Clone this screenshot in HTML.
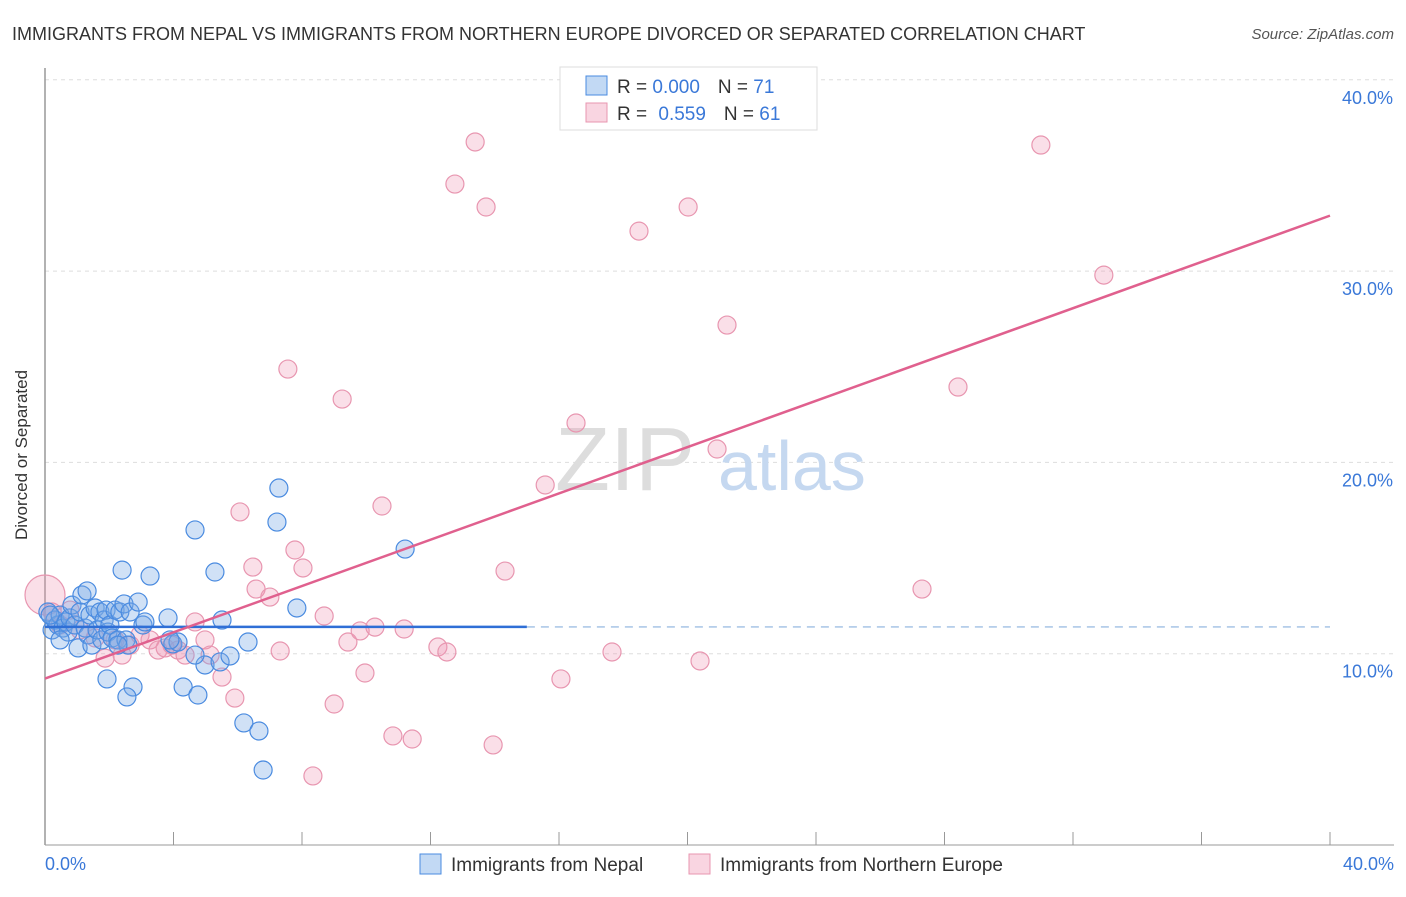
<!DOCTYPE html>
<html><head><meta charset="utf-8"><style>
body{margin:0;background:#fff;font-family:"Liberation Sans",sans-serif;}
svg text{font-family:"Liberation Sans",sans-serif;}
</style></head><body>
<svg width="1406" height="892" xmlns="http://www.w3.org/2000/svg">
<text x="12" y="40" font-size="18" fill="#333">IMMIGRANTS FROM NEPAL VS IMMIGRANTS FROM NORTHERN EUROPE DIVORCED OR SEPARATED CORRELATION CHART</text>
<text x="1394" y="39" font-size="15" fill="#555" font-style="italic" text-anchor="end">Source: ZipAtlas.com</text>
<g id="grid"></g>
<g><text x="555" y="490" font-size="90" fill="#ddd" font-family="Liberation Serif">ZIP</text><text x="718" y="490" font-size="70" fill="#c5d8f0">atlas</text></g>
<line x1="45" y1="68" x2="45" y2="845" stroke="#999" stroke-width="1.5"/>
<line x1="45" y1="845" x2="1394" y2="845" stroke="#999" stroke-width="1"/>
<g id="ticks"></g>
<text x="27" y="455" font-size="17" fill="#333" transform="rotate(-90 27 455)" text-anchor="middle">Divorced or Separated</text>
<text x="45" y="870" font-size="18" fill="#3a78d8">0.0%</text>
<text x="1394" y="870" font-size="18" fill="#3a78d8" text-anchor="end">40.0%</text>
<g id="pts"></g>
<g id="lines"></g>
<g>
<rect x="560" y="67" width="257" height="63" fill="#fff" stroke="#ddd"/>
<rect x="586" y="76" width="21" height="19" fill="rgba(120,170,230,0.45)" stroke="#4a8be0"/>
<rect x="586" y="103" width="21" height="19" fill="rgba(240,150,180,0.4)" stroke="#e896b0"/>
<text x="617" y="93" font-size="19" fill="#333">R = <tspan fill="#3a78d8">0.000</tspan><tspan dx="18">N = </tspan><tspan fill="#3a78d8">71</tspan></text>
<text x="617" y="120" font-size="19" fill="#333">R = <tspan fill="#3a78d8" dx="6">0.559</tspan><tspan dx="18">N = </tspan><tspan fill="#3a78d8">61</tspan></text>
</g>
<g>
<rect x="420" y="854" width="21" height="20" fill="rgba(120,170,230,0.45)" stroke="#4a8be0"/>
<text x="451" y="871" font-size="19" fill="#333">Immigrants from Nepal</text>
<rect x="689" y="854" width="21" height="20" fill="rgba(240,150,180,0.4)" stroke="#e896b0"/>
<text x="720" y="871" font-size="19" fill="#333">Immigrants from Northern Europe</text>
</g>
</svg>
<script>
const yTicks=[10,20,30,40];
const yTickLabels=["10.0%","20.0%","30.0%","40.0%"];
const xTicks=[0,4,8,12,16,20,24,28,32,36,40];
const blueX=[0.09,0.22,0.31,0.40,0.47,0.56,0.65,0.72,0.78,0.84,0.93,1.03,1.09,1.15,1.25,1.31,1.34,1.40,1.46,1.56,1.62,1.71,1.77,1.84,1.90,1.96,2.02,2.09,2.18,2.27,2.33,2.40,2.46,2.52,2.58,2.65,2.74,2.90,3.05,3.11,3.27,3.83,3.98,4.14,4.30,4.67,4.76,4.98,5.29,5.45,5.51,5.76,6.19,6.32,6.66,6.79,7.22,7.28,7.84,11.21,1.93,2.55,0.47,3.89,4.67,2.27,0.16];
const blueY=[12.18,11.24,11.76,11.50,12.02,11.34,11.66,11.13,11.87,12.54,11.50,10.30,12.18,13.07,11.34,13.28,10.98,12.02,10.45,12.39,11.24,12.18,10.72,11.76,12.28,11.13,11.50,10.82,12.28,10.72,12.18,14.37,12.60,10.72,10.45,12.18,8.26,12.70,11.50,11.66,14.06,11.87,10.51,10.61,8.26,16.47,7.84,9.41,14.27,9.57,11.76,9.88,6.38,10.61,5.96,3.92,16.88,18.66,12.39,15.47,8.68,7.74,10.72,10.72,9.93,10.45,12.02];
const pinkX=[0.0,0.22,0.47,0.78,1.09,1.56,1.87,2.18,2.40,2.65,2.96,3.27,3.52,3.74,3.95,4.14,4.36,4.67,4.98,5.14,5.51,5.91,6.07,6.47,6.57,7.00,7.32,7.56,7.78,8.03,8.34,8.69,9.00,9.25,9.43,9.81,9.96,10.27,10.49,10.83,11.18,11.43,12.23,12.51,12.76,13.39,13.73,13.95,14.32,15.57,16.06,16.53,17.65,18.49,20.02,20.39,20.92,21.23,27.30,28.42,31.00,32.96];
const pinkY=[13.07,12.18,11.50,12.28,11.24,10.82,9.77,10.72,9.93,10.45,10.98,10.72,10.19,10.30,10.45,10.19,9.93,11.66,10.72,9.93,8.78,7.68,17.41,14.53,13.38,12.96,10.14,24.88,15.42,14.48,3.61,11.97,7.37,23.31,10.61,11.19,8.99,11.39,17.72,5.70,11.29,5.54,10.35,10.09,34.55,36.75,33.35,5.23,14.32,18.82,8.68,22.06,10.09,32.09,33.35,9.62,20.70,27.18,13.38,23.94,36.59,29.79];
const blueTrend=[11.4,11.4];
const pinkTrend=[8.7,32.9];
const NS="http://www.w3.org/2000/svg";
const sx=v=>45+v/40*1285, sy=v=>845-v/10*191.3;
function mk(t,a,p){const e=document.createElementNS(NS,t);for(const k in a)e.setAttribute(k,a[k]);p.appendChild(e);return e;}
const grid=document.getElementById('grid');
yTicks.forEach((t,i)=>{
 const l=mk('line',{x1:45,x2:1394,y1:sy(t),y2:sy(t),stroke:'#ddd','stroke-dasharray':'4,4'},grid);
 
 
 const tx=mk('text',{x:1393,y:sy(t)+24,'font-size':18,fill:'#3a78d8','text-anchor':'end'},grid);
 tx.textContent=yTickLabels[i];
 
 
});
const tk=document.getElementById('ticks');
xTicks.forEach(t=>{const l=mk('line',{x1:sx(t),x2:sx(t),y1:832,y2:845,stroke:'#999'},tk);
 
 });
const pts=document.getElementById('pts');
pinkX.forEach((x,i)=>{const c=mk('circle',{cx:sx(x),cy:sy(pinkY[i]),r:i==0?20:9,fill:'rgba(240,150,180,0.3)',stroke:'#e896b0','stroke-width':1.2},pts);
 
 });
blueX.forEach((x,i)=>{const c=mk('circle',{cx:sx(x),cy:sy(blueY[i]),r:9,fill:'rgba(120,170,230,0.35)',stroke:'#4a8be0','stroke-width':1.2},pts);
 
 });
const ln=document.getElementById('lines');
let a=mk('line',{x1:sx(0),x2:sx(15),y1:sy(blueTrend[0]),y2:sy(blueTrend[0]),stroke:'#2f6fd6','stroke-width':2.5},ln);


a=mk('line',{x1:sx(15),x2:sx(40),y1:sy(blueTrend[1]),y2:sy(blueTrend[1]),stroke:'#8ab0dd','stroke-width':1.2,'stroke-dasharray':'8,6'},ln);


a=mk('line',{x1:sx(0),x2:sx(40),y1:sy(pinkTrend[0]),y2:sy(pinkTrend[1]),stroke:'#e0608e','stroke-width':2.5},ln);


</script>
</body></html>
